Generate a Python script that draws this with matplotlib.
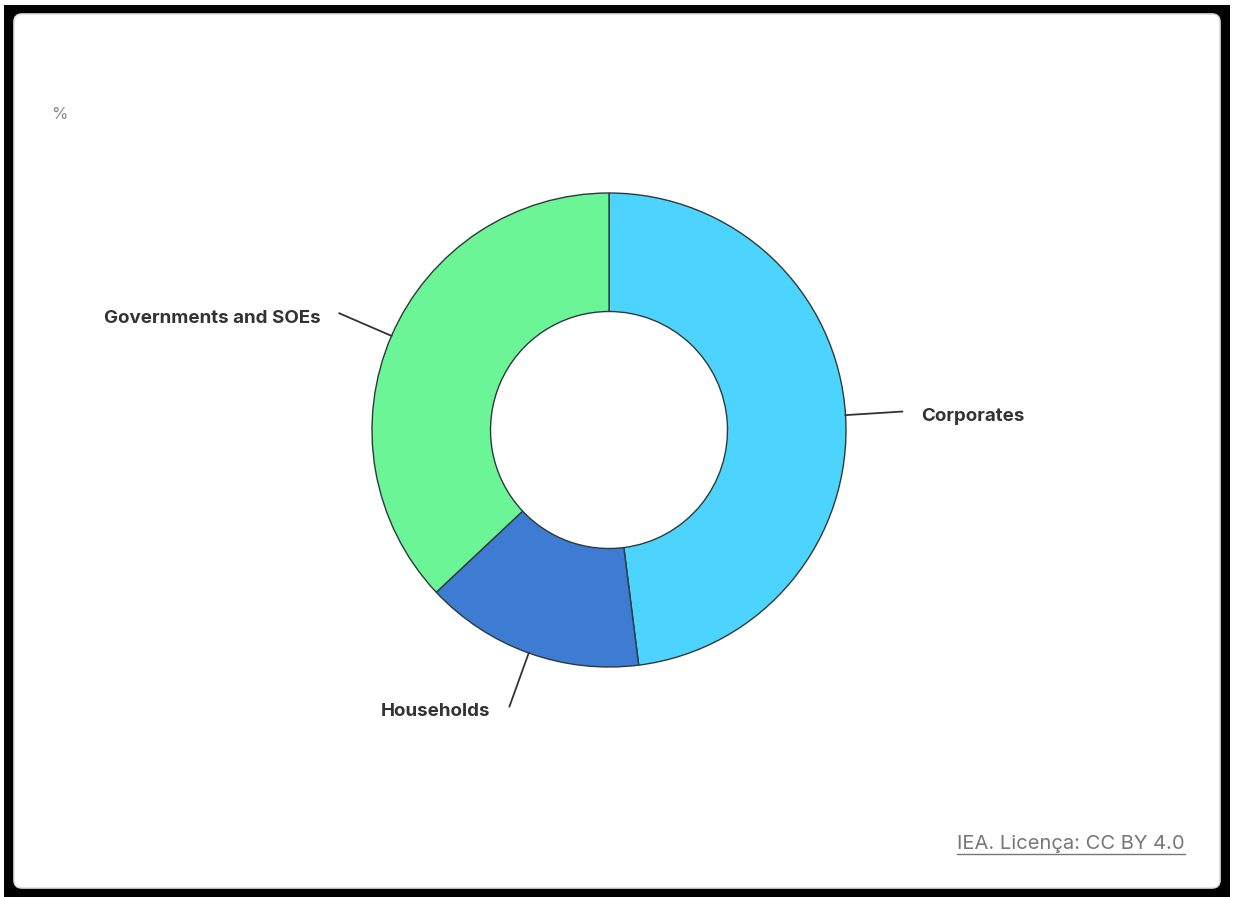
import numpy as np
import matplotlib.pyplot as plt
from matplotlib.patches import Rectangle, FancyBboxPatch

# share of total (%)
labels = ["Corporates", "Households", "Governments and SOEs"]
shares = [48, 15, 37]
colors = ["#4dd4fe", "#3e7bd3", "#6bf597"]

W, H = 1233, 897
fig = plt.figure(figsize=(W / 100, H / 100), dpi=100)
ax = fig.add_axes([0, 0, 1, 1])
ax.set_xlim(0, W)
ax.set_ylim(0, H)
ax.axis("off")

# black outer frame + white card
ax.add_patch(Rectangle((4, 0), 1226, H - 5, facecolor="black", edgecolor="none", zorder=0))
ax.add_patch(FancyBboxPatch((14, 9), 1206, 874, boxstyle="round,pad=0,rounding_size=8",
                            facecolor="white", edgecolor="#dedede", linewidth=1.2, zorder=1))

cx, cy, r = 609, H - 430, 237
wedges, _ = ax.pie(shares, colors=colors, startangle=90, counterclock=False,
                   center=(cx, cy), radius=r, frame=True,
                   wedgeprops=dict(width=r * 0.5, edgecolor="#2d3a3a", linewidth=1.0))
for w in wedges:
    w.set_zorder(2)
ax.set_xlim(0, W)
ax.set_ylim(0, H)
ax.set_aspect("equal")
ax.axis("off")

font = ["Inter", "DejaVu Sans"]

# leader lines and labels
for w, lab in zip(wedges, labels):
    ang = np.deg2rad((w.theta1 + w.theta2) / 2)
    x0, y0 = cx + r * np.cos(ang), cy + r * np.sin(ang)
    x1, y1 = cx + 1.24 * r * np.cos(ang), cy + 1.24 * r * np.sin(ang)
    ax.plot([x0, x1], [y0, y1], color="#333333", lw=1.3, zorder=3)
    side = 1 if np.cos(ang) >= 0 else -1
    ax.text(x1 + side * 19, y1 - 5, lab, ha="left" if side > 0 else "right",
            va="center", fontsize=13.5, fontweight="bold", color="#333333",
            family=font, zorder=4)

ax.text(51, H - 114, "%", ha="left", va="center", fontsize=12, color="#888888",
        family=font, zorder=4)

src = ax.text(1185, H - 844, "IEA. Licença: CC BY 4.0", ha="right", va="center",
              fontsize=14.5, color="#777777", family=font, zorder=4)
fig.canvas.draw()
bb = src.get_window_extent().transformed(ax.transData.inverted())
ax.plot([bb.x0, bb.x1], [bb.y0 - 1, bb.y0 - 1], color="#777777", lw=1.0, zorder=4)

fig.savefig("out.png", dpi=100, facecolor="white")
